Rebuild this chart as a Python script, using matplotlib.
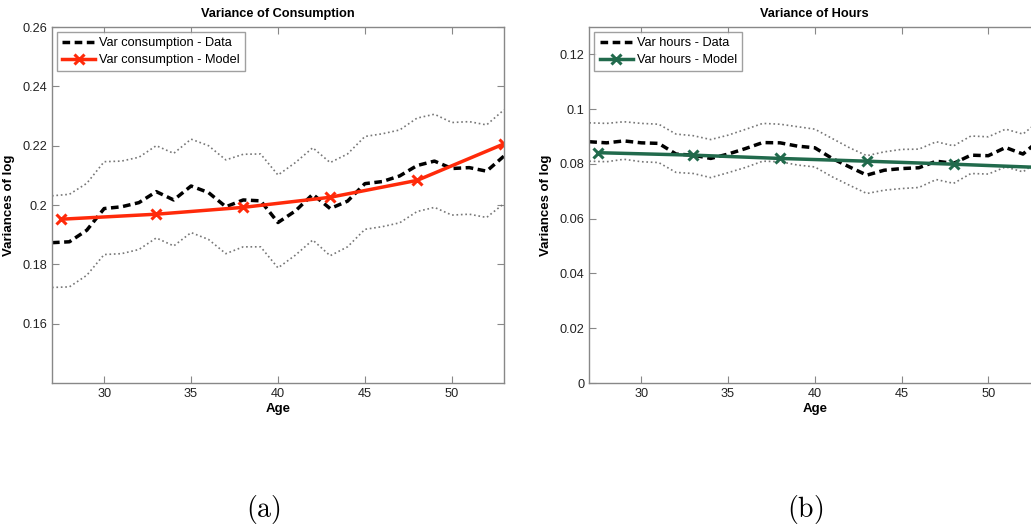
import matplotlib
matplotlib.use("Agg")
import matplotlib.pyplot as plt

plt.rcParams['font.family'] = ['Liberation Sans', 'DejaVu Sans']
plt.rcParams['mathtext.fontset'] = 'cm'

ages = list(range(27, 54))
model_ages = [27.5, 33, 38, 43, 48, 53]

cons_data = [0.1873, 0.1876, 0.1915, 0.1988, 0.1994, 0.2008, 0.2045, 0.2017, 0.2064,
             0.2042, 0.1994, 0.2017, 0.2014, 0.1941, 0.1980, 0.2036, 0.1988, 0.2013,
             0.2072, 0.2079, 0.2098, 0.2133, 0.2148, 0.2123, 0.2126, 0.2114, 0.2165]
cons_upper = [0.2031, 0.2036, 0.2073, 0.2146, 0.2148, 0.2161, 0.2200, 0.2174, 0.2222,
              0.2200, 0.2152, 0.2171, 0.2172, 0.2101, 0.2143, 0.2193, 0.2143, 0.2172,
              0.2231, 0.2240, 0.2253, 0.2293, 0.2306, 0.2278, 0.2281, 0.2270, 0.2321]
cons_lower = [0.1722, 0.1724, 0.1763, 0.1833, 0.1836, 0.1850, 0.1889, 0.1862, 0.1907,
              0.1884, 0.1836, 0.1859, 0.1859, 0.1788, 0.1831, 0.1882, 0.1829, 0.1859,
              0.1918, 0.1927, 0.1940, 0.1978, 0.1992, 0.1966, 0.1969, 0.1958, 0.2005]
cons_model = [0.1952, 0.1969, 0.1992, 0.2026, 0.2083, 0.2206]

hours_data = [0.0881, 0.0877, 0.0884, 0.0877, 0.0875, 0.0836, 0.0832, 0.0820, 0.0836,
              0.0856, 0.0878, 0.0877, 0.0865, 0.0859, 0.0820, 0.0789, 0.0759, 0.0777,
              0.0783, 0.0786, 0.0810, 0.0802, 0.0832, 0.0830, 0.0860, 0.0836, 0.0890]
hours_upper = [0.0950, 0.0948, 0.0954, 0.0948, 0.0945, 0.0909, 0.0903, 0.0889, 0.0905,
               0.0926, 0.0948, 0.0945, 0.0936, 0.0927, 0.0893, 0.0859, 0.0830, 0.0844,
               0.0853, 0.0854, 0.0881, 0.0866, 0.0902, 0.0899, 0.0927, 0.0909, 0.0960]
hours_lower = [0.0810, 0.0808, 0.0817, 0.0808, 0.0805, 0.0769, 0.0765, 0.0750, 0.0768,
               0.0787, 0.0810, 0.0808, 0.0796, 0.0789, 0.0753, 0.0722, 0.0692, 0.0704,
               0.0710, 0.0714, 0.0743, 0.0729, 0.0765, 0.0763, 0.0789, 0.0771, 0.0814]
hours_model = [0.0841, 0.0832, 0.0820, 0.0810, 0.0799, 0.0787]

cons_yticks = [0.16, 0.18, 0.2, 0.22, 0.24, 0.26]
cons_yticklabels = ['0.16', '0.18', '0.2', '0.22', '0.24', '0.26']
hours_yticks = [0, 0.02, 0.04, 0.06, 0.08, 0.1, 0.12]
hours_yticklabels = ['0', '0.02', '0.04', '0.06', '0.08', '0.1', '0.12']
xticks = [30, 35, 40, 45, 50]

W, H = 1031, 527
fig = plt.figure(figsize=(W / 100, H / 100), dpi=100)

ax1 = fig.add_axes([52 / W, 1 - 383 / H, 452 / W, 356 / H])
ax2 = fig.add_axes([589.3 / W, 1 - 383 / H, 451 / W, 356 / H])

RED = '#ff2a0a'
GREEN = '#216a4c'
DOT = '#777777'


def style(ax):
    for s in ax.spines.values():
        s.set_color('#888888')
        s.set_linewidth(1.0)
    ax.tick_params(direction='in', top=True, right=True, length=5, color='#888888',
                   labelsize=9.2, labelcolor='#222222', pad=3.5)


def legend(ax):
    leg = ax.legend(loc='upper left', fontsize=9.2, frameon=True, fancybox=False,
                    edgecolor='#888888', borderaxespad=0.4, handlelength=2.6,
                    borderpad=0.4, labelspacing=0.4, handletextpad=0.3)
    leg.get_frame().set_linewidth(1.0)


ax1.plot(ages, cons_upper, ':', color=DOT, lw=1.2)
ax1.plot(ages, cons_lower, ':', color=DOT, lw=1.2)
ax1.plot(ages, cons_data, '--', color='black', lw=2.5, dashes=(2.2, 1.3),
         label='Var consumption - Data')
ax1.plot(model_ages, cons_model, '-', color=RED, lw=2.5, marker='x', ms=7.5, mew=2.2,
         label='Var consumption - Model')
ax1.set_xlim(27, 53)
ax1.set_ylim(0.14, 0.26)
ax1.set_xticks(xticks)
ax1.set_yticks(cons_yticks)
ax1.set_yticklabels(cons_yticklabels)
ax1.set_title('Variance of Consumption', fontsize=9.2, fontweight='bold', pad=7)
ax1.set_xlabel('Age', fontsize=9.5, fontweight='bold', labelpad=2)
ax1.set_ylabel('Variances of log', fontsize=9.5, fontweight='bold')
ax1.yaxis.set_label_coords(-0.082, 0.5)
style(ax1)
legend(ax1)

ax2.plot(ages, hours_upper, ':', color=DOT, lw=1.2)
ax2.plot(ages, hours_lower, ':', color=DOT, lw=1.2)
ax2.plot(ages, hours_data, '--', color='black', lw=2.5, dashes=(2.2, 1.3),
         label='Var hours - Data')
ax2.plot(model_ages, hours_model, '-', color=GREEN, lw=2.5, marker='x', ms=7.5, mew=2.2,
         label='Var hours - Model')
ax2.set_xlim(27, 53)
ax2.set_ylim(0, 0.13)
ax2.set_xticks(xticks)
ax2.set_yticks(hours_yticks)
ax2.set_yticklabels(hours_yticklabels)
ax2.set_title('Variance of Hours', fontsize=9.2, fontweight='bold', pad=7)
ax2.set_xlabel('Age', fontsize=9.5, fontweight='bold', labelpad=2)
ax2.set_ylabel('Variances of log', fontsize=9.5, fontweight='bold')
ax2.yaxis.set_label_coords(-0.083, 0.5)
style(ax2)
legend(ax2)

fig.text(263 / W, 1 - 510 / H, r'$\mathrm{(a)}$', fontsize=20, ha='center', va='center')
fig.text(805 / W, 1 - 510 / H, r'$\mathrm{(b)}$', fontsize=20, ha='center', va='center')

fig.savefig('out.png', dpi=100)
